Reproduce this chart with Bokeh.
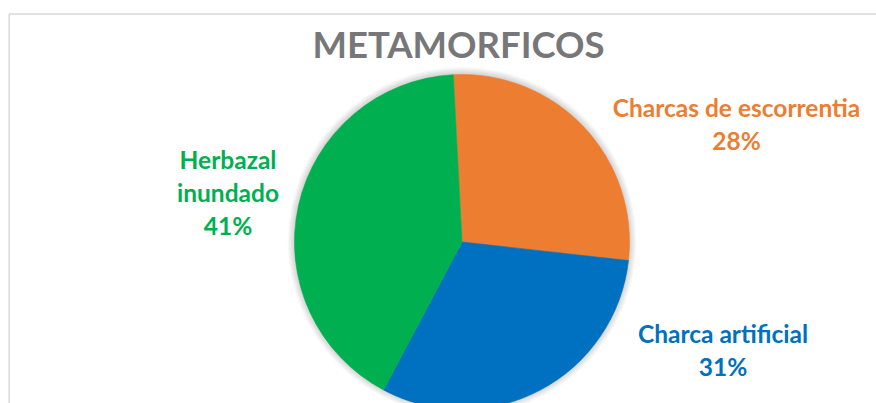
import math
from bokeh.plotting import figure
from bokeh.models import Range1d, ColumnDataSource
from bokeh.core.properties import value
from bokeh.embed import file_html
from bokeh.resources import INLINE

# ---- data ----
title_text = "METAMORFICOS"
categories = ["Charcas de escorrentia", "Charca artificial", "Herbazal inundado"]
shares = [27.6, 31.0, 41.4]
colors = ["#ED7D31", "#0070C0", "#00B050"]
label_lines = [["Charcas de escorrentia"], ["Charca artificial"], ["Herbazal", "inundado"]]

# ---- layout (pixels inside the canvas, y up) ----
W, H = 876, 403
cx, cy, r = 461.5, 161.5, 167.5
start_offset = math.radians(3.0)
label_anchor = [(736.0, 296.0), (722.5, 70.0), (227.5, 244.0)]
line_step = 33.0
font = "Lato"

p = figure(width=W, height=H, output_backend="svg", toolbar_location=None,
           x_range=Range1d(0, W), y_range=Range1d(0, H), min_border=0,
           match_aspect=False)
p.axis.visible = False
p.grid.visible = False
p.outline_line_color = None
p.background_fill_color = "white"
p.border_fill_color = "white"

# chart-area frame (left and top edges visible)
p.line(x=[8.7, 8.7, W], y=[0, 389.5, 389.5], line_color="#d9d9d9", line_width=1.5)

# soft shadow
for k in range(1, 8):
    p.circle(x=[cx], y=[cy + 0.5], radius=r + k, fill_color="black", fill_alpha=0.025,
             line_color=None)

total = sum(shares)
cum = [0.0]
for s in shares:
    cum.append(cum[-1] + s / total)
a0 = math.pi / 2 + start_offset
starts = [a0 - 2 * math.pi * cum[i + 1] for i in range(len(shares))]
ends = [a0 - 2 * math.pi * cum[i] for i in range(len(shares))]
src = ColumnDataSource(dict(x=[cx] * len(shares), y=[cy] * len(shares), start=starts, end=ends,
                            color=colors, cat=categories))
p.wedge(x="x", y="y", radius=r, start_angle="start", end_angle="end", fill_color="color",
        line_color="color", line_width=0.6, source=src)

# title
p.text(x=[458], y=[359.5], text=[title_text], text_align="center", text_baseline="alphabetic",
       text_font=value(font), text_font_style="bold", text_font_size="36.5px", text_color="#77777a")

# labels
tx, ty, tt, tc = [], [], [], []
for i, lines in enumerate(label_lines):
    ax, ay = label_anchor[i]
    all_lines = lines + [f"{round(shares[i])}%"]
    for j, ln in enumerate(all_lines):
        tx.append(ax)
        ty.append(ay - j * line_step)
        tt.append(ln)
        tc.append(colors[i])
p.text(x=tx, y=ty, text=tt, text_color=tc, text_align="center", text_baseline="alphabetic",
       text_font=value(font), text_font_style="bold", text_font_size="24.5px")

open("out.html", "w").write(file_html(p, INLINE))
